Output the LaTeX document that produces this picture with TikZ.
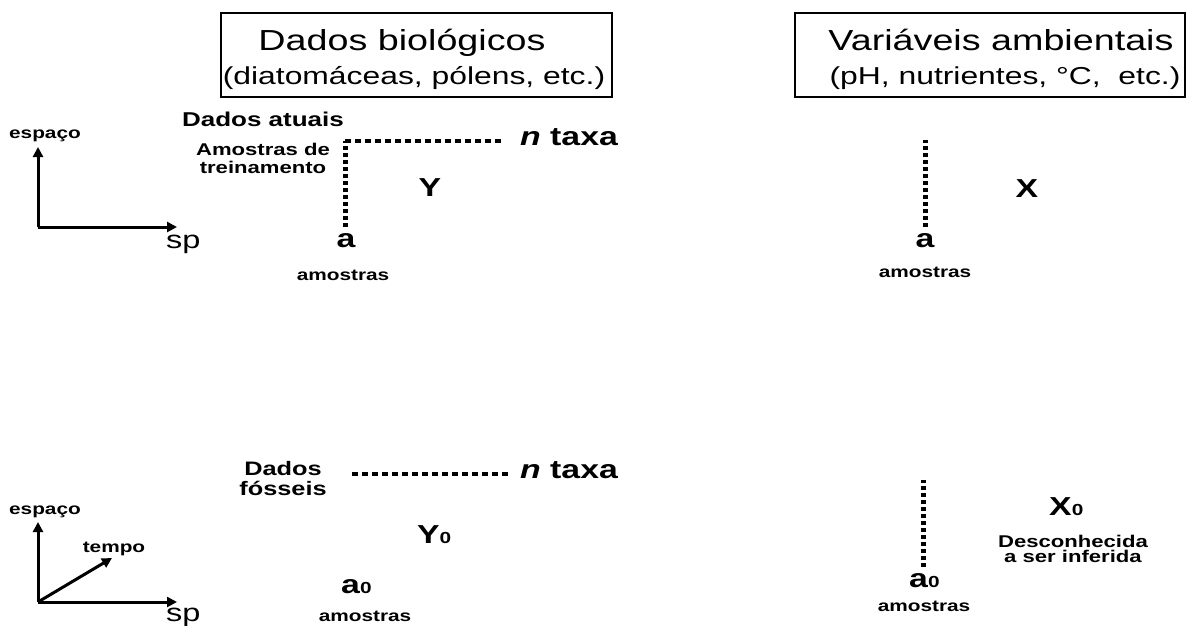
\documentclass[tikz,border=0pt]{standalone}
\usepackage{fontspec}
\setmainfont[FakeStretch=1.3]{Liberation Sans}
\usetikzlibrary{arrows.meta}

\tikzset{
  lbl/.style={inner sep=0pt,anchor=base,font=\bfseries\fontsize{16}{18}\selectfont},
  big/.style={inner sep=0pt,anchor=base,font=\bfseries\fontsize{26}{28}\selectfont},
  head/.style={inner sep=0pt,anchor=base,font=\fontsize{29}{32}\selectfont},
  sub/.style={inner sep=0pt,anchor=base,font=\fontsize{24.5}{27}\selectfont},
  axis/.style={line width=3pt,-{Triangle[length=10pt,width=10pt]}},
  hdots/.style={line width=4pt,dash pattern=on 6pt off 4pt},
  vdots/.style={line width=5pt,dash pattern=on 4pt off 3pt},
}
\newcommand{\zero}{{\fontsize{16}{16}\selectfont 0}}

\begin{document}
\begin{tikzpicture}[x=1pt,y=-1pt]
\useasboundingbox (0,0) rectangle (1187,625);
%
% Dados biologicos
\draw[line width=1.4pt] (221,13) rectangle (612,97);
\node[head] (bio) at (402,50) {Dados biológicos};
\node[sub] (biosub) at (414,84) {(diatomáceas, pólens, etc.)};
% Variaveis ambientais
\draw[line width=1.4pt] (795,13) rectangle (1185,97);
\node[head] (amb) at (1001,50) {Variáveis ambientais};
\node[sub] (ambsub) at (1005,84) {(pH, nutrientes, °C,\ \ etc.)};

%
% eixos (dados atuais)
\coordinate (o1) at (38,227);
\coordinate (esp1) at (38,147);
\coordinate (spx1) at (177,227);
\draw[axis] (o1) -- (esp1);
\draw[axis] (o1) -- (spx1);
\node[lbl] (espaco1) at (45,138) {espaço};
\node[inner sep=0pt,anchor=base west,font=\fontsize{25}{27}\selectfont] (sp1) at (166,248) {sp};
% Dados atuais
\node[lbl,font=\bfseries\fontsize{20}{22}\selectfont] (atuais) at (263,126) {Dados atuais};
\node[lbl,font=\bfseries\fontsize{17}{19}\selectfont] (treino1) at (263,155) {Amostras de};
\node[lbl,font=\bfseries\fontsize{17}{19}\selectfont] (treino2) at (263,173) {treinamento};
\node[big,anchor=base west] (taxa1) at (520,145) {\textit{n} taxa};
\node[big] (Y1) at (430,196) {Y};
\node[big] (a1) at (346,247) {a};
\node[lbl] (am1) at (343,280) {amostras};
\coordinate (b1) at (345,227);
\coordinate (c1) at (345,141);
\coordinate (e1) at (503,141);
\draw[vdots] (b1) -- (c1);
\draw[hdots] (c1) -- (e1);
% X atual
\node[big] (X1) at (1027,197) {X};
\node[big] (a2) at (925,247) {a};
\node[lbl] (am2) at (925,277) {amostras};
\coordinate (b2) at (925,227);
\coordinate (c2) at (925,140);
\draw[vdots] (b2) -- (c2);

%
% eixos (dados fosseis)
\coordinate (o2) at (38,602);
\coordinate (esp2) at (38,522);
\coordinate (spx2) at (177,602);
\coordinate (tmp2) at (112,558);
\draw[axis] (o2) -- (esp2);
\draw[axis] (o2) -- (spx2);
\draw[axis] (o2) -- (tmp2);
\node[lbl] (espaco2) at (45,514) {espaço};
\node[lbl] (tempo) at (114,552) {tempo};
\node[inner sep=0pt,anchor=base west,font=\fontsize{25}{27}\selectfont] (sp2) at (166,621) {sp};
% Dados fosseis
\node[lbl,font=\bfseries\fontsize{19.5}{21}\selectfont] (foss1) at (283,475) {Dados};
\node[lbl,font=\bfseries\fontsize{19.5}{21}\selectfont] (foss2) at (283,495) {fósseis};
\coordinate (c3) at (352,474);
\coordinate (e3) at (510,474);
\draw[hdots] (c3) -- (e3);
\node[big,anchor=base west] (taxa2) at (520,478) {\textit{n} taxa};
\node[big,anchor=base west] (Y2) at (417,543) {Y\zero};
\node[big,anchor=base west] (a3) at (341,593) {a\zero};
\node[lbl] (am3) at (365,621) {amostras};
% X desconhecida
\coordinate (b4) at (923,567);
\coordinate (c4) at (923,480);
\draw[vdots] (b4) -- (c4);
\node[big,anchor=base west] (a4) at (909,587) {a\zero};
\node[lbl] (am4) at (924,611) {amostras};
\node[big,anchor=base west] (X2) at (1049,515) {X\zero};
\node[lbl,font=\bfseries\fontsize{17}{19}\selectfont] (desc1) at (1073,547) {Desconhecida};
\node[lbl,font=\bfseries\fontsize{17}{19}\selectfont] (desc2) at (1073,562) {a ser inferida};
\end{tikzpicture}
\end{document}
